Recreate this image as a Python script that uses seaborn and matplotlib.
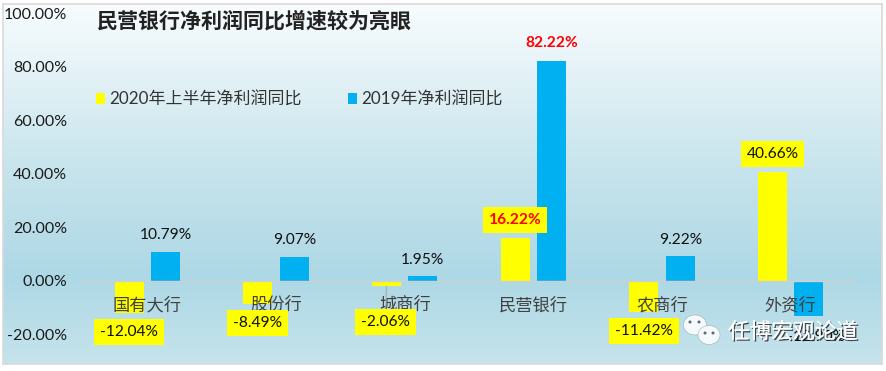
# -*- coding: utf-8 -*-
import numpy as np
import pandas as pd
import matplotlib.pyplot as plt
import seaborn as sns
from matplotlib.colors import LinearSegmentedColormap
from matplotlib.patches import Ellipse
import matplotlib.patheffects as pe

categories = ['国有大行', '股份行', '城商行', '民营银行', '农商行', '外资行']
series_names = ['2020年上半年净利润同比', '2019年净利润同比']
values_2020 = [-12.04, -8.49, -2.06, 16.22, -11.42, 40.66]
values_2019 = [10.79, 9.07, 1.95, 82.22, 9.22, -12.90]
y_ticks = [-20, 0, 20, 40, 60, 80, 100]

W, H = 887, 371

sns.set_theme(style='white')
plt.rcParams['font.family'] = ['Lato', 'Noto Sans CJK SC', 'DejaVu Sans']

df = pd.DataFrame({'cat': categories * 2,
                   'series': [series_names[0]] * 6 + [series_names[1]] * 6,
                   'value': values_2020 + values_2019})

fig = plt.figure(figsize=(W / 100, H / 100), dpi=100, facecolor='white')

# gradient panel with the grey frame
bg = fig.add_axes([3 / W, 1 - 364 / H, 879 / W, 360 / H])
cmap = LinearSegmentedColormap.from_list('panel', [(0, '#f8fcfe'), (0.46, '#c7e4ec'),
                                                   (0.76, '#add8e5'), (1, '#c6e4ec')])
bg.imshow(np.linspace(0, 1, 256).reshape(-1, 1), aspect='auto', cmap=cmap)
bg.set_xticks([])
bg.set_yticks([])
for s in bg.spines.values():
    s.set_color('#d9d9d9')
    s.set_linewidth(1.2)

top, bottom = 13.4, 334.5
ax = fig.add_axes([83 / W, 1 - bottom / H, 772 / W, (bottom - top) / H])
ax.patch.set_alpha(0)

bar_total = 0.567
sns.barplot(data=df, x='cat', y='value', hue='series', order=categories,
            palette=['#ffff00', '#00b0f0'], width=bar_total, gap=0.205,
            saturation=1, errorbar=None, linewidth=0, ax=ax)

ax.set_ylim(-20, 100)
ax.set_xlim(-0.5, 5.5)
ax.set_yticks(y_ticks)
ax.set_yticklabels(['%.2f%%' % t for t in y_ticks], color='#1a1a1a', fontsize=11.5)
ax.set_xlabel('')
ax.set_ylabel('')
for s in ['top', 'left', 'right']:
    ax.spines[s].set_visible(False)
ax.spines['bottom'].set_position(('data', 0))
ax.spines['bottom'].set_color('#d0d0d0')
ax.spines['bottom'].set_linewidth(1)
ax.set_axisbelow(False)  # category names sit on top of the bars
ax.tick_params(axis='x', length=0, pad=11.5, labelsize=12.4, labelcolor='#404040')
ax.tick_params(axis='y', length=0, pad=11.5)

# data labels, moved by hand in the original (offsets in px from bar end)
offsets_2020 = [(0, -19), (0, -19), (-1, -35.5), (0, 17.5), (0, -19.5), (0, 18)]
offsets_2019 = [(0, 17), (0, 17), (0, 16), (0, 18), (0, 16), (7, -21)]
red_labels = ['民营银行']

for i, cat in enumerate(categories):
    for vals, offs, sign in [(values_2020, offsets_2020, -1), (values_2019, offsets_2019, 1)]:
        v = vals[i]
        box = None
        arrow = None
        if vals is values_2020:
            box = dict(facecolor='#ffff00', edgecolor='none', pad=4.2)
            if cat == '城商行':  # this one keeps its leader line
                arrow = dict(arrowstyle='-', color='#a6a6a6', lw=0.7, shrinkA=0, shrinkB=0)
        red = cat in red_labels
        ax.annotate('%.2f%%' % v, xy=(i + sign * bar_total / 4, v), xytext=offs[i],
                    textcoords='offset pixels', ha='center', va='center', fontsize=11.2,
                    color='#ff0000' if red else '#111111',
                    fontweight='bold' if red else 'normal', bbox=box, arrowprops=arrow,
                    zorder=4)

handles, labels = ax.get_legend_handles_labels()
ax.legend(handles, labels, ncol=2, frameon=False, loc='upper left',
          bbox_to_anchor=(0.0168, 0.757), fontsize=12.25, handlelength=0.55,
          handleheight=0.55, handletextpad=0.24, columnspacing=2.7,
          labelcolor='#333333', borderpad=0, borderaxespad=0)

fig.text(97 / W, 1 - 21 / H, '民营银行净利润同比增速较为亮眼', fontsize=15.1, fontweight='bold',
         color='#222222', va='center', ha='left')

# watermark
over = fig.add_axes([0, 0, 1, 1], facecolor='none')
over.set_xlim(0, W)
over.set_ylim(H, 0)
over.axis('off')
over.add_patch(Ellipse((695, 325), 23, 20, fc='#f4fafc', ec='#8a9aa0', lw=0.3))
over.add_patch(Ellipse((709, 335), 22, 19, fc='#f4fafc', ec='#8a9aa0', lw=0.3))
for x, y in [(690, 322), (699, 322), (705, 333), (713, 333)]:
    over.add_patch(Ellipse((x, y), 3, 3, fc='#5a6a70', ec='none'))
over.text(728, 332, '任博宏观论道', fontsize=15.6, color='white', va='center', ha='left',
          path_effects=[pe.withSimplePatchShadow(offset=(1, -1), shadow_rgbFace='#222222', alpha=0.8),
                        pe.Normal()])

fig.savefig('out.png', dpi=100)
